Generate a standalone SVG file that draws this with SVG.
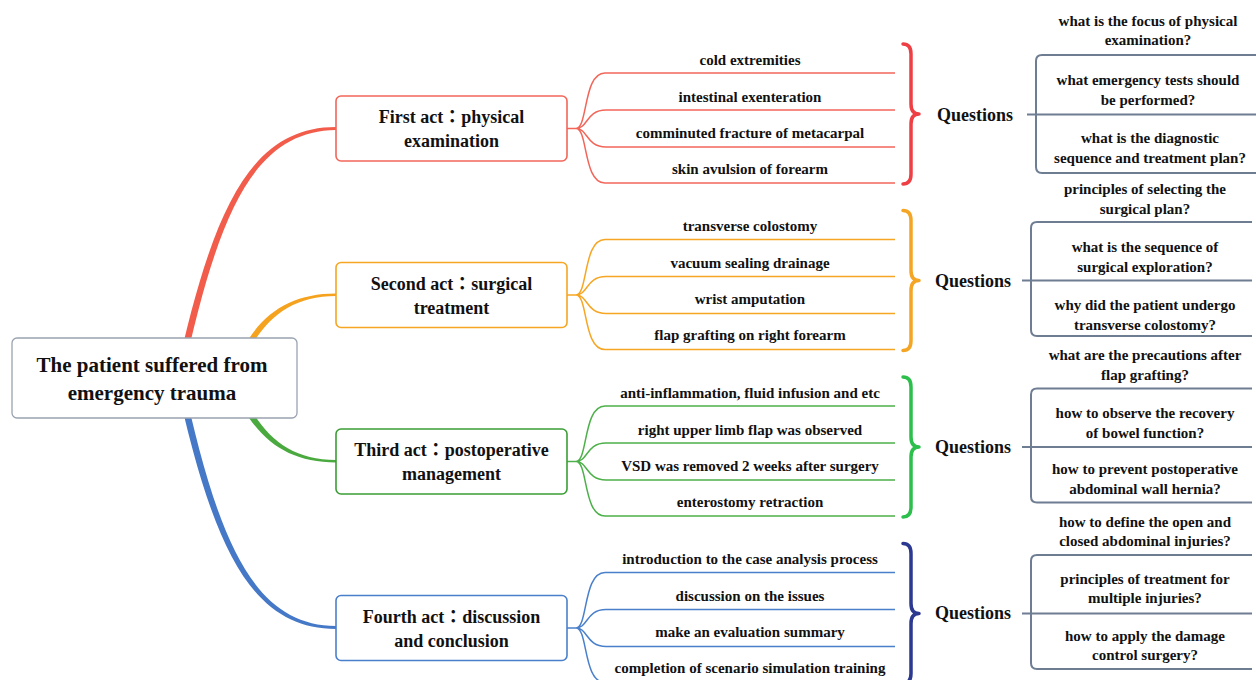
<svg xmlns="http://www.w3.org/2000/svg" width="1256" height="680" viewBox="0 0 1256 680">
<style>
text{font-family:"Liberation Serif","Noto Sans CJK TC",serif;font-weight:bold;fill:#111;text-anchor:middle}
.root{font-size:21px}
.act{font-size:18px}
.leaf{font-size:15px}
.qh{font-size:18px}
.q{font-size:15px}
.fan{fill:none;stroke-width:1.5}
.brace{fill:none;stroke-width:3.5;stroke-linecap:round;stroke-linejoin:round}
.qb{fill:none;stroke:#6F7D92;stroke-width:2}
.box{fill:#fff;stroke-width:1.6}
.r{stroke:#F2665A}.o{stroke:#F6A623}.g{stroke:#4DB04A}.b{stroke:#4A80CB}
</style>
<g id="connectors">
  <path d="M175 380 C212 210 250 127 336 127 L336 130 C254 131 218 212 182 380 Z" fill="#F25C4B"/>
  <path d="M175 376 C212 546 250 629 336 629 L336 626 C254 625 218 544 182 376 Z" fill="#4578C6"/>
  <path d="M232 372 C252 320 284 293.5 336 293.5 L336 296 C287 296.5 259 322 239 372 Z" fill="#F5A31F"/>
  <path d="M232 384 C252 436 284 462.5 336 462.5 L336 460 C287 459.5 259 434 239 384 Z" fill="#4BAA3F"/>
  <g id="fan1" class="fan r">
    <path d="M567 128.5 H576 M576 128.5 C588 128.5 583 73 605 73 H895 M576 128.5 C588 128.5 586 110 606 110 H895 M576 128.5 C588 128.5 586 147 606 147 H895 M576 128.5 C588 128.5 583 183 605 183 H895"/>
  </g>
  <g id="fan2" class="fan o" transform="translate(0,166.5)">
    <path d="M567 128.5 H576 M576 128.5 C588 128.5 583 73 605 73 H895 M576 128.5 C588 128.5 586 110 606 110 H895 M576 128.5 C588 128.5 586 147 606 147 H895 M576 128.5 C588 128.5 583 183 605 183 H895"/>
  </g>
  <g id="fan3" class="fan g" transform="translate(0,333)">
    <path d="M567 128.5 H576 M576 128.5 C588 128.5 583 73 605 73 H895 M576 128.5 C588 128.5 586 110 606 110 H895 M576 128.5 C588 128.5 586 147 606 147 H895 M576 128.5 C588 128.5 583 183 605 183 H895"/>
  </g>
  <g id="fan4" class="fan b" transform="translate(0,499.5)">
    <path d="M567 128.5 H576 M576 128.5 C588 128.5 583 73 605 73 H895 M576 128.5 C588 128.5 586 110 606 110 H895 M576 128.5 C588 128.5 586 147 606 147 H895 M576 128.5 C588 128.5 583 183 605 183 H895"/>
  </g>
  <path class="brace" stroke="#EE3F45" d="M903 44 Q911 44 911 54 V104 Q911 114 919 114 Q911 114 911 124 V174 Q911 184 903 184"/>
  <path class="brace" stroke="#F5A524" transform="translate(0,166.5)" d="M903 44 Q911 44 911 54 V104 Q911 114 919 114 Q911 114 911 124 V174 Q911 184 903 184"/>
  <path class="brace" stroke="#2CBF4C" transform="translate(0,333)" d="M903 44 Q911 44 911 54 V104 Q911 114 919 114 Q911 114 911 124 V174 Q911 184 903 184"/>
  <path class="brace" stroke="#2B3990" transform="translate(0,499.5)" d="M903 44 Q911 44 911 54 V104 Q911 114 919 114 Q911 114 911 124 V174 Q911 184 903 184"/>
  <path class="qb" d="M1027 114.5 H1256 M1256 55 H1042 Q1036 55 1036 61 V167 Q1036 173 1042 173 H1256"/>
  <path class="qb" transform="translate(-5,166)" d="M1027 114.5 H1257 M1257 56 H1042 Q1036 56 1036 62 V164 Q1036 170 1042 170 H1257"/>
  <path class="qb" transform="translate(-5,332.5)" d="M1027 114.5 H1257 M1257 56 H1042 Q1036 56 1036 62 V164 Q1036 170 1042 170 H1257"/>
  <path class="qb" transform="translate(-5,499)" d="M1027 114.5 H1257 M1257 56 H1042 Q1036 56 1036 62 V164 Q1036 170 1042 170 H1257"/>
</g>
<g id="root">
  <rect x="12" y="338" width="285" height="80" rx="5" fill="#fff" stroke="#9AA3B0" stroke-width="1.3"/>
  <text class="root" x="152" y="372">The patient suffered from</text>
  <text class="root" x="152" y="400">emergency trauma</text>
</g>
<g id="act1">
  <rect class="box r" x="336" y="96" width="231" height="65" rx="5"/>
  <text class="act" x="451.5" y="123">First act：physical</text>
  <text class="act" x="451.5" y="147">examination</text>
</g>
<g id="act2">
  <rect class="box o" x="336" y="262.5" width="231" height="65" rx="5"/>
  <text class="act" x="451.5" y="289.5">Second act：surgical</text>
  <text class="act" x="451.5" y="313.5">treatment</text>
</g>
<g id="act3">
  <rect class="box" stroke="#3A9E35" x="336" y="429" width="231" height="65" rx="5"/>
  <text class="act" x="451.5" y="456">Third act：postoperative</text>
  <text class="act" x="451.5" y="480">management</text>
</g>
<g id="act4">
  <rect class="box b" x="336" y="595.5" width="231" height="65" rx="5"/>
  <text class="act" x="451.5" y="622.5">Fourth act：discussion</text>
  <text class="act" x="451.5" y="646.5">and conclusion</text>
</g>
<g id="leaves1">
  <text class="leaf" x="750" y="64.5">cold extremities</text>
  <text class="leaf" x="750" y="101.5">intestinal exenteration</text>
  <text class="leaf" x="750" y="137.5">comminuted fracture of metacarpal</text>
  <text class="leaf" x="750" y="173.5">skin avulsion of forearm</text>
</g>
<g id="leaves2">
  <text class="leaf" x="750" y="231">transverse colostomy</text>
  <text class="leaf" x="750" y="268">vacuum sealing drainage</text>
  <text class="leaf" x="750" y="304">wrist amputation</text>
  <text class="leaf" x="750" y="340">flap grafting on right forearm</text>
</g>
<g id="leaves3">
  <text class="leaf" x="750" y="397.5">anti-inflammation, fluid infusion and etc</text>
  <text class="leaf" x="750" y="434.5">right upper limb flap was observed</text>
  <text class="leaf" x="750" y="470.5">VSD was removed 2 weeks after surgery</text>
  <text class="leaf" x="750" y="506.5">enterostomy retraction</text>
</g>
<g id="leaves4">
  <text class="leaf" x="750" y="564">introduction to the case analysis process</text>
  <text class="leaf" x="750" y="601">discussion on the issues</text>
  <text class="leaf" x="750" y="637">make an evaluation summary</text>
  <text class="leaf" x="750" y="673">completion of scenario simulation training</text>
</g>
<g id="questions1">
  <text class="qh" x="975" y="121">Questions</text>
  <text class="q" x="1148" y="26">what is the focus of physical</text>
  <text class="q" x="1148" y="45">examination?</text>
  <text class="q" x="1148" y="85">what emergency tests should</text>
  <text class="q" x="1148" y="105">be performed?</text>
  <text class="q" x="1150" y="143">what is the diagnostic</text>
  <text class="q" x="1150" y="163">sequence and treatment plan?</text>
</g>
<g id="questions2">
  <text class="qh" x="973" y="287">Questions</text>
  <text class="q" x="1145" y="194">principles of selecting the</text>
  <text class="q" x="1145" y="214">surgical plan?</text>
  <text class="q" x="1145" y="252">what is the sequence of</text>
  <text class="q" x="1145" y="272">surgical exploration?</text>
  <text class="q" x="1145" y="310">why did the patient undergo</text>
  <text class="q" x="1145" y="330">transverse colostomy?</text>
</g>
<g id="questions3">
  <text class="qh" x="973" y="453">Questions</text>
  <text class="q" x="1145" y="360">what are the precautions after</text>
  <text class="q" x="1145" y="380">flap grafting?</text>
  <text class="q" x="1145" y="418">how to observe the recovery</text>
  <text class="q" x="1145" y="438">of bowel function?</text>
  <text class="q" x="1145" y="474">how to prevent postoperative</text>
  <text class="q" x="1145" y="494">abdominal wall hernia?</text>
</g>
<g id="questions4">
  <text class="qh" x="973" y="619">Questions</text>
  <text class="q" x="1145" y="527">how to define the open and</text>
  <text class="q" x="1145" y="546">closed abdominal injuries?</text>
  <text class="q" x="1145" y="584">principles of treatment for</text>
  <text class="q" x="1145" y="603">multiple injuries?</text>
  <text class="q" x="1145" y="641">how to apply the damage</text>
  <text class="q" x="1145" y="660">control surgery?</text>
</g>
</svg>
